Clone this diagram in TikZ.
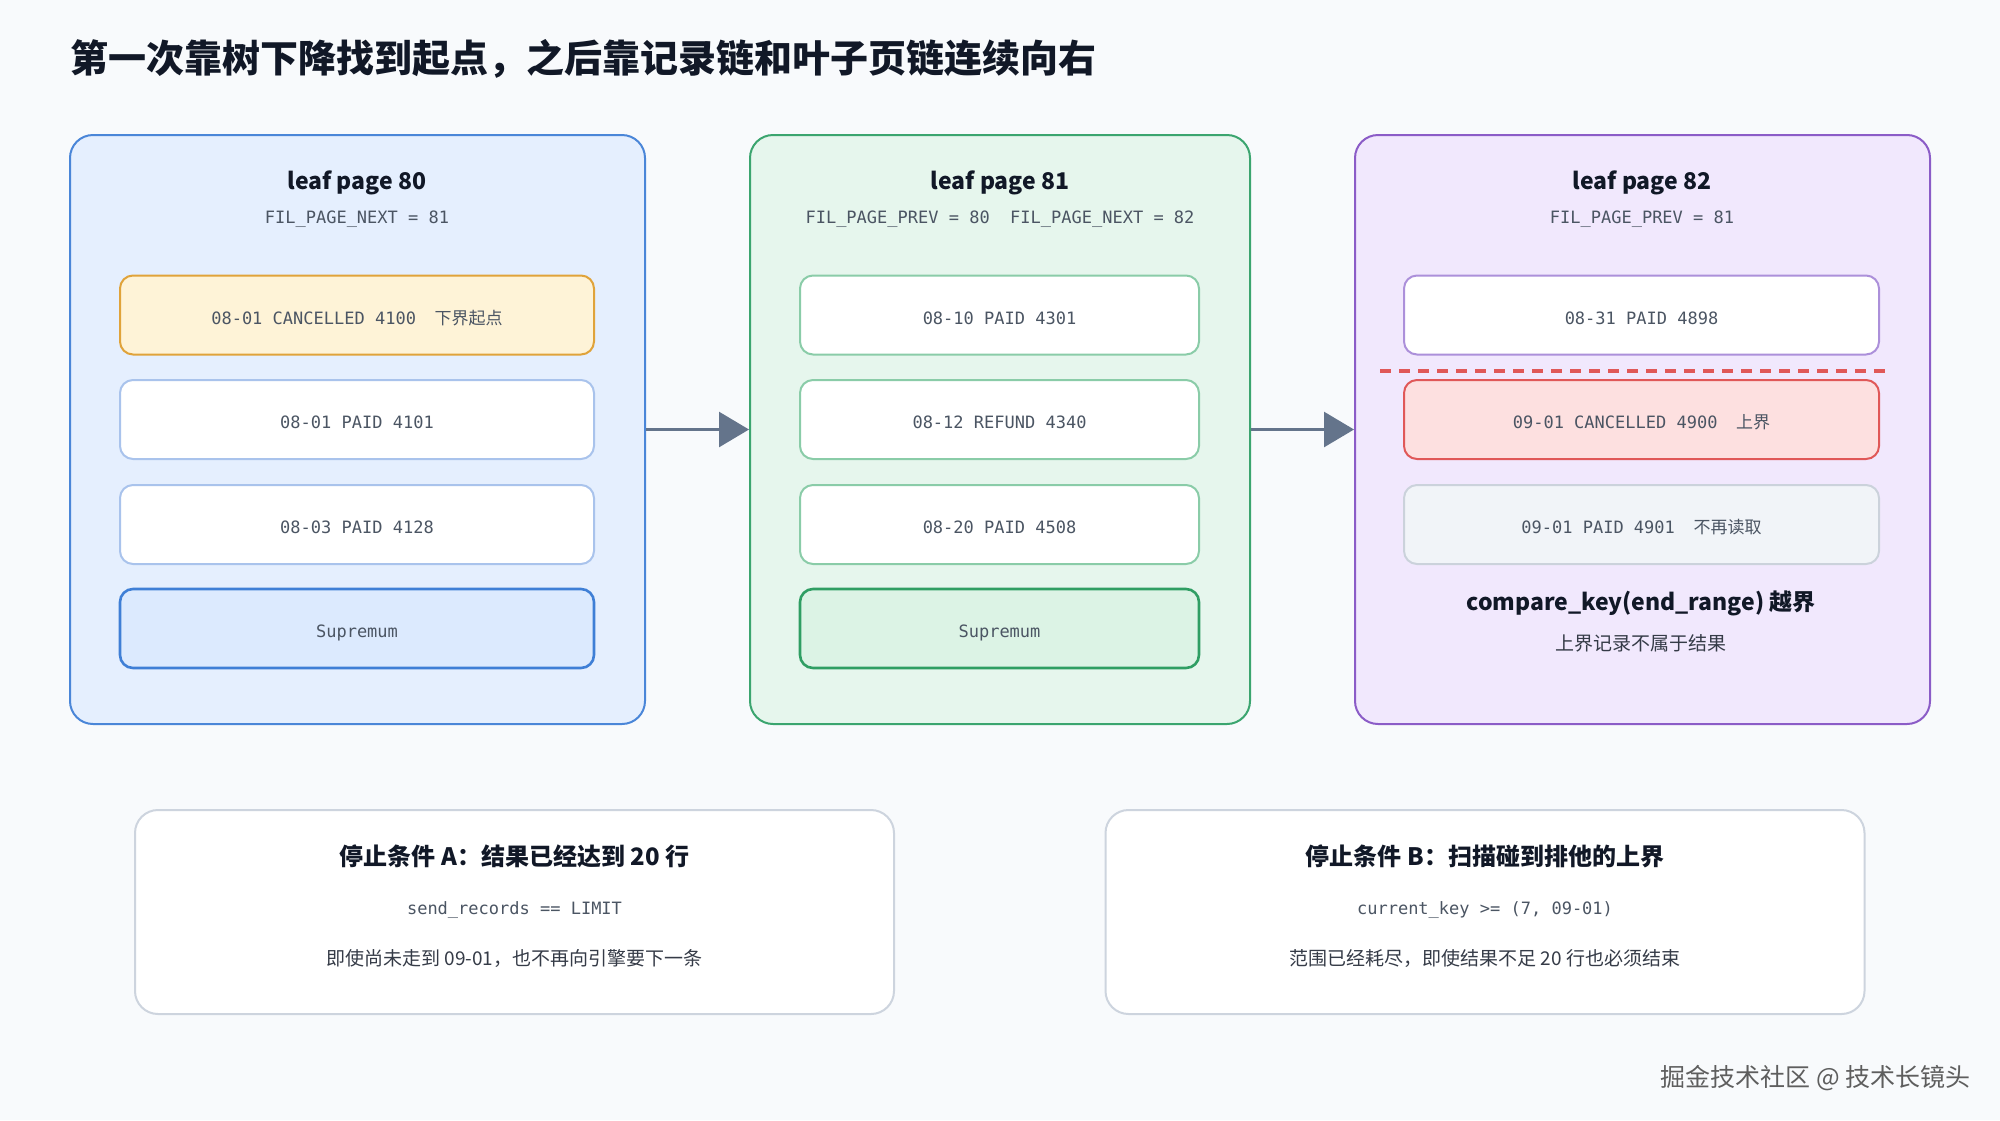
\documentclass[tikz,border=0pt]{standalone}
\usepackage{fontspec}
\setmainfont{Noto Sans CJK SC}
\setmonofont{DejaVu Sans Mono}
\usetikzlibrary{arrows.meta}
\definecolor{bg}{HTML}{F8FAFC}
\definecolor{ink}{HTML}{111827}
\definecolor{txt}{HTML}{4B5563}
\definecolor{pAfill}{HTML}{E5EFFE}
\definecolor{pAline}{HTML}{4A86D8}
\definecolor{rAline}{HTML}{A9C3EC}
\definecolor{supAfill}{HTML}{DCEAFE}
\definecolor{supAline}{HTML}{3F7FD6}
\definecolor{ambfill}{HTML}{FEF3D7}
\definecolor{ambline}{HTML}{E0A33A}
\definecolor{pBfill}{HTML}{E6F6ED}
\definecolor{pBline}{HTML}{3BA56F}
\definecolor{rBline}{HTML}{8ACCA8}
\definecolor{supBfill}{HTML}{DCF3E5}
\definecolor{supBline}{HTML}{2F9E63}
\definecolor{pCfill}{HTML}{F1E8FD}
\definecolor{pCline}{HTML}{8B5CC7}
\definecolor{rCline}{HTML}{AC90DA}
\definecolor{redfill}{HTML}{FDE0E0}
\definecolor{redline}{HTML}{E05858}
\definecolor{greyfill}{HTML}{F1F4F8}
\definecolor{greyline}{HTML}{CBD2DB}
\definecolor{boxline}{HTML}{CDD4DE}
\definecolor{arrowc}{HTML}{64748B}
\definecolor{wmark}{HTML}{5E5E5E}
\begin{document}
\begin{tikzpicture}[x=0.5pt,y=-0.5pt,
  pagebox/.style={draw, rounded corners=11.5pt, line width=1pt, inner sep=0pt},
  recbox/.style={draw, rounded corners=6.5pt, line width=1pt, fill=white, text=txt, inner sep=0pt,
     text height=9pt, text depth=0pt,
     font=\ttfamily\fontsize{8.5pt}{10pt}\selectfont},
  supbox/.style={recbox, line width=1.3pt},
  condbox/.style={draw=boxline, fill=white, rounded corners=11.5pt, line width=1pt, inner sep=0pt,
     minimum width=379.5pt, minimum height=102pt},
  ptitle/.style={inner sep=0pt, text=ink, font=\bfseries\fontsize{11.5pt}{13pt}\selectfont},
  pmeta/.style={inner sep=0pt, text=txt, font=\ttfamily\fontsize{8.5pt}{10pt}\selectfont},
  subtxt/.style={inner sep=0pt, text=ink!85, font=\fontsize{9.5pt}{11pt}\selectfont},
  link/.style={draw=arrowc, line width=1.35pt, -{Triangle[length=15pt,width=17.5pt]}},
  dashline/.style={draw=redline, line width=1.6pt, dash pattern=on 5.5pt off 4pt}
]
\fill[bg] (0,0) rectangle (2000,1120);
\useasboundingbox (0,0) rectangle (2000,1120);

% title
\node[anchor=west, inner sep=0pt, text=ink, font=\bfseries\fontsize{19pt}{22pt}\selectfont] (title) at (70,59)
  {第一次靠树下降找到起点，之后靠记录链和叶子页链连续向右};

% page 80
\node[pagebox, fill=pAfill, draw=pAline, minimum width=287.5pt, minimum height=294.5pt] (pg80) at (357.5,429.5) {};
\node[ptitle] (t80) at (357,183) {leaf page 80};
\node[pmeta] (m80) at (357,219) {FIL\_PAGE\_NEXT = 81};
\node[recbox, fill=ambfill, draw=ambline, minimum width=237pt, minimum height=39.5pt] (a1) at (357,315)
  {08-01 CANCELLED 4100\hspace{1.1em}{\rmfamily 下界起点}};
\node[recbox, draw=rAline, minimum width=237pt, minimum height=39.5pt] (a2) at (357,419.5) {08-01 PAID 4101};
\node[recbox, draw=rAline, minimum width=237pt, minimum height=39.5pt] (a3) at (357,524.5) {08-03 PAID 4128};
\node[supbox, fill=supAfill, draw=supAline, minimum width=237pt, minimum height=39.5pt] (a4) at (357,628.5) {Supremum};

% page 81
\node[pagebox, fill=pBfill, draw=pBline, minimum width=250pt, minimum height=294.5pt] (pg81) at (1000,429.5) {};
\node[ptitle] (t81) at (1000,183) {leaf page 81};
\node[pmeta] (m81) at (1000,219) {FIL\_PAGE\_PREV = 80\ \ FIL\_PAGE\_NEXT = 82};
\node[recbox, draw=rBline, minimum width=199.5pt, minimum height=39.5pt] (b1) at (999.5,315) {08-10 PAID 4301};
\node[recbox, draw=rBline, minimum width=199.5pt, minimum height=39.5pt] (b2) at (999.5,419.5) {08-12 REFUND 4340};
\node[recbox, draw=rBline, minimum width=199.5pt, minimum height=39.5pt] (b3) at (999.5,524.5) {08-20 PAID 4508};
\node[supbox, fill=supBfill, draw=supBline, minimum width=199.5pt, minimum height=39.5pt] (b4) at (999.5,628.5) {Supremum};

% page 82
\node[pagebox, fill=pCfill, draw=pCline, minimum width=287.5pt, minimum height=294.5pt] (pg82) at (1642.5,429.5) {};
\node[ptitle] (t82) at (1642,183) {leaf page 82};
\node[pmeta] (m82) at (1642,219) {FIL\_PAGE\_PREV = 81};
\node[recbox, draw=rCline, minimum width=237.5pt, minimum height=39.5pt] (c1) at (1641.5,315) {08-31 PAID 4898};
\coordinate (dl1) at (1380,371);
\coordinate (dl2) at (1892,371);
\path[dashline] (dl1) -- (dl2);
\node[recbox, fill=redfill, draw=redline, minimum width=237.5pt, minimum height=39.5pt] (c2) at (1641.5,419.5)
  {09-01 CANCELLED 4900\hspace{1.1em}{\rmfamily 上界}};
\node[recbox, fill=greyfill, draw=greyline, minimum width=237.5pt, minimum height=39.5pt] (c3) at (1641.5,524.5)
  {09-01 PAID 4901\hspace{1.1em}{\rmfamily 不再读取}};
\node[ptitle] (ck) at (1641,603) {compare\_key(end\_range) 越界};
\node[subtxt] (ckd) at (1641,643) {上界记录不属于结果};

% links
\path[link] (pg80.east) -- (pg81.west);
\path[link] (pg81.east) -- (pg82.west);

% stop condition A
\node[condbox] (ca) at (514.5,912) {};
\node[inner sep=0pt, text=ink, font=\bfseries\fontsize{12pt}{14pt}\selectfont] (cat) at (514.5,856) {停止条件 A：结果已经达到 20 行};
\node[pmeta] (cam) at (514.5,910.5) {send\_records == LIMIT};
\node[subtxt] (cad) at (514.5,958) {即使尚未走到 09-01，也不再向引擎要下一条};

% stop condition B
\node[condbox] (cb) at (1485,912) {};
\node[inner sep=0pt, text=ink, font=\bfseries\fontsize{12pt}{14pt}\selectfont] (cbt) at (1485,856) {停止条件 B：扫描碰到排他的上界};
\node[pmeta] (cbm) at (1485,910.5) {current\_key >= (7, 09-01)};
\node[subtxt] (cbd) at (1485,958) {范围已经耗尽，即使结果不足 20 行也必须结束};

% watermark
\node[anchor=east, inner sep=0pt, text=wmark, font=\fontsize{12.5pt}{14pt}\selectfont] (wm) at (1971,1078) {掘金技术社区 @ 技术长镜头};
\end{tikzpicture}
\end{document}
